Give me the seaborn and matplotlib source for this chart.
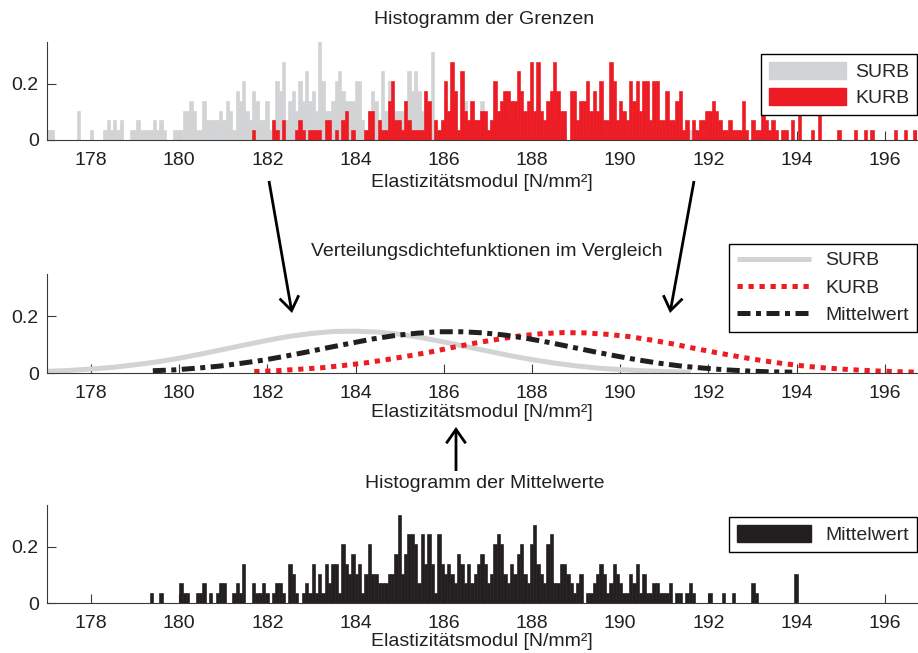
import numpy as np
import pandas as pd
import matplotlib
matplotlib.use("Agg")
import matplotlib.pyplot as plt
import seaborn as sns
from matplotlib.patches import Patch, FancyArrowPatch, ArrowStyle
from matplotlib.lines import Line2D

sns.set_style("ticks")
plt.rcParams["font.family"] = ["Liberation Sans", "DejaVu Sans"]
plt.rcParams["font.size"] = 14

# ---------------- data ----------------
BIN_START = 177.0
BIN_WIDTH = 0.075
N_BINS = 264
DENSITY_PER_COUNT = 0.0348

xtick_values = [178, 180, 182, 184, 186, 188, 190, 192, 194, 196]
ytick_values = [0, 0.2]
ytick_labels = ["0", "0.2"]

surb_first_bin = 0
surb_counts = [
    1, 1, 0, 0, 0, 0, 0, 0, 0, 3,
    0, 0, 0, 1, 0, 0, 0, 1, 2, 1,
    2, 1, 2, 0, 0, 1, 1, 2, 1, 1,
    1, 1, 2, 1, 2, 1, 0, 0, 1, 1,
    1, 3, 3, 4, 3, 1, 1, 4, 2, 2,
    2, 2, 3, 2, 4, 3, 1, 5, 4, 6,
    3, 2, 5, 4, 2, 2, 4, 1, 2, 6,
    5, 8, 2, 4, 5, 3, 6, 4, 7, 4,
    5, 3, 10, 6, 3, 3, 4, 6, 7, 5,
    4, 4, 4, 6, 6, 2, 1, 3, 5, 4,
    2, 7, 3, 6, 4, 3, 3, 3, 4, 7,
    5, 7, 5, 3, 4, 3, 9, 2, 1, 2,
    4, 3, 4, 5, 1, 3, 4, 2, 3, 2,
    2, 4, 2, 1, 2, 3, 2, 2, 3, 2,
    2, 2, 2, 2, 2, 2, 1, 2, 4, 2,
    1, 2, 1, 2, 1, 1, 1, 0, 1, 2,
    1, 1, 2, 1, 1, 1, 1, 1, 1, 0,
    1, 1, 1, 0, 1, 1, 0, 1, 1, 0,
    1, 0, 1, 0, 1, 0, 1, 0, 1, 1,
    0, 0, 0, 1, 1, 1,
]

kurb_first_bin = 62
kurb_counts = [
    1, 0, 0, 0, 0, 0, 2, 1, 0, 2,
    0, 0, 0, 1, 2, 1, 0, 1, 1, 1,
    1, 0, 2, 2, 0, 1, 0, 2, 3, 0,
    1, 0, 0, 0, 1, 3, 3, 0, 2, 1,
    1, 4, 6, 2, 2, 1, 4, 2, 1, 1,
    1, 1, 5, 4, 0, 2, 1, 2, 6, 3,
    8, 5, 1, 7, 3, 2, 4, 2, 2, 3,
    3, 1, 2, 6, 3, 4, 5, 5, 4, 4,
    7, 5, 3, 4, 8, 3, 8, 3, 2, 4,
    5, 8, 5, 3, 3, 0, 5, 5, 2, 4,
    4, 6, 3, 5, 3, 6, 2, 2, 8, 6,
    2, 4, 3, 2, 6, 4, 6, 3, 6, 6,
    2, 6, 6, 2, 2, 5, 2, 2, 4, 5,
    1, 2, 0, 2, 1, 2, 2, 3, 3, 4,
    3, 2, 1, 1, 2, 1, 1, 1, 4, 1,
    0, 2, 1, 1, 3, 2, 1, 2, 1, 0,
    1, 1, 0, 2, 0, 3, 0, 0, 0, 1,
    0, 3, 0, 0, 0, 0, 0, 1, 0, 0,
    0, 0, 1, 0, 0, 1, 0, 1, 0, 0,
    0, 0, 0, 0, 1, 0, 0, 1, 0, 0,
    1,
]

mittel_first_bin = 31
mittel_counts = [
    1, 0, 0, 1, 0, 0, 0, 0, 0, 2,
    1, 1, 0, 0, 1, 1, 2, 0, 1, 0,
    1, 2, 2, 0, 0, 1, 2, 1, 4, 0,
    0, 2, 1, 1, 2, 1, 0, 1, 2, 2,
    1, 0, 4, 3, 1, 0, 1, 2, 1, 4,
    1, 3, 1, 4, 2, 4, 4, 1, 6, 4,
    3, 5, 3, 4, 1, 3, 6, 3, 3, 2,
    2, 2, 3, 3, 5, 9, 3, 5, 7, 7,
    6, 2, 7, 4, 7, 4, 1, 7, 4, 3,
    4, 3, 2, 5, 4, 2, 4, 2, 3, 4,
    5, 4, 2, 3, 6, 7, 6, 3, 2, 4,
    3, 5, 6, 3, 2, 6, 8, 4, 3, 2,
    6, 7, 2, 2, 4, 4, 3, 2, 1, 2,
    3, 0, 1, 1, 2, 3, 4, 3, 1, 2,
    4, 3, 2, 1, 1, 3, 2, 4, 1, 3,
    1, 1, 2, 2, 1, 1, 1, 2, 0, 1,
    1, 0, 1, 2, 1, 0, 0, 0, 0, 1,
    0, 0, 0, 1, 0, 0, 1, 0, 0, 0,
    0, 0, 2, 1, 0, 0, 0, 0, 0, 0,
    0, 0, 0, 0, 0, 3,
]

surb_pdf_x = [177.0, 177.5, 178.0, 178.5, 179.0, 179.5, 180.0, 180.5, 181.0, 181.5,
              182.0, 182.5, 183.0, 183.5, 184.0, 184.5, 185.0, 185.5, 186.0, 186.5,
              187.0, 187.5, 188.0, 188.5, 189.0, 189.5, 190.0, 190.5, 191.0, 191.6]
surb_pdf_y = [0.006, 0.009, 0.014, 0.020, 0.029, 0.039, 0.052, 0.067, 0.083, 0.099,
              0.115, 0.129, 0.139, 0.146, 0.147, 0.144, 0.136, 0.124, 0.109, 0.093,
              0.077, 0.061, 0.047, 0.035, 0.025, 0.017, 0.012, 0.008, 0.005, 0.003]

kurb_pdf_x = [181.7, 182.2, 182.7, 183.2, 183.7, 184.2, 184.7, 185.2, 185.7, 186.2,
              186.7, 187.2, 187.7, 188.2, 188.7, 189.2, 189.7, 190.2, 190.7, 191.2,
              191.7, 192.2, 192.7, 193.2, 193.7, 194.2, 194.7, 195.2, 195.7, 196.2,
              196.7]
kurb_pdf_y = [0.005, 0.008, 0.013, 0.018, 0.026, 0.035, 0.047, 0.060, 0.074, 0.090,
              0.105, 0.118, 0.130, 0.138, 0.142, 0.141, 0.136, 0.128, 0.116, 0.102,
              0.086, 0.071, 0.057, 0.044, 0.033, 0.024, 0.017, 0.012, 0.008, 0.005,
              0.003]

mittel_pdf_x = [179.4, 179.9, 180.4, 180.9, 181.4, 181.9, 182.4, 182.9, 183.4, 183.9,
                184.4, 184.9, 185.4, 185.9, 186.4, 186.9, 187.4, 187.9, 188.4, 188.9,
                189.4, 189.9, 190.4, 190.9, 191.4, 191.9, 192.4, 192.9, 193.4, 193.9]
mittel_pdf_y = [0.008, 0.011, 0.017, 0.024, 0.034, 0.045, 0.059, 0.074, 0.090, 0.105,
                0.120, 0.132, 0.140, 0.145, 0.145, 0.141, 0.133, 0.121, 0.107, 0.091,
                0.075, 0.060, 0.046, 0.034, 0.024, 0.017, 0.011, 0.007, 0.004, 0.003]

labels_series = ["SURB", "KURB", "Mittelwert"]
titles = ["Histogramm der Grenzen", "Verteilungsdichtefunktionen im Vergleich",
          "Histogramm der Mittelwerte"]
xlabel = "Elastizitätsmodul [N/mm²]"

# ---------------- style ----------------
C_GRAY = "#D1D3D4"
C_RED = "#ED1C24"
C_BLACK = "#231F20"
C_TEXT = "#231F20"
C_AX = "#3a3a3a"

W, H = 918, 653
fig = plt.figure(figsize=(W / 100, H / 100), dpi=100)


def add_ax(top, bottom):
    return fig.add_axes([47 / W, 1 - bottom / H, 870 / W, (bottom - top) / H])


ax_top = add_ax(42, 140)
ax_mid = add_ax(274, 373)
ax_bot = add_ax(505, 603)


def draw_hist(ax, first_bin, counts, color):
    counts = np.asarray(counts, dtype=float)
    idx = first_bin + np.arange(len(counts))
    df = pd.DataFrame({
        "x": BIN_START + BIN_WIDTH * (idx + 0.5),
        "w": counts * DENSITY_PER_COUNT,
    })
    sns.histplot(data=df, x="x", weights="w", binwidth=BIN_WIDTH,
                 binrange=(BIN_START, BIN_START + BIN_WIDTH * N_BINS),
                 stat="count", element="bars", fill=True, color=color,
                 alpha=1, linewidth=0.45, edgecolor=color, ax=ax)


draw_hist(ax_top, surb_first_bin, surb_counts, C_GRAY)
draw_hist(ax_top, kurb_first_bin, kurb_counts, C_RED)
draw_hist(ax_bot, mittel_first_bin, mittel_counts, C_BLACK)

LW = 3.6
RED_DASH = (0, (1.05, 1.15))
BLACK_DASH = (0, (2.6, 1.1, 1.0, 1.1))
sns.lineplot(x=surb_pdf_x, y=surb_pdf_y, ax=ax_mid, color=C_GRAY, linewidth=LW,
             solid_capstyle="butt")
sns.lineplot(x=kurb_pdf_x, y=kurb_pdf_y, ax=ax_mid, color=C_RED, linewidth=LW,
             linestyle=RED_DASH, dash_capstyle="butt")
sns.lineplot(x=mittel_pdf_x, y=mittel_pdf_y, ax=ax_mid, color=C_BLACK, linewidth=LW,
             linestyle=BLACK_DASH, dash_capstyle="butt")

label_pads = {ax_top: 4, ax_mid: 1.5, ax_bot: 1.0}
for ax in (ax_top, ax_mid, ax_bot):
    ax.set_xlim(177.0, 196.73)
    ax.set_ylim(0, 0.348)
    ax.set_xticks(xtick_values)
    ax.set_yticks(ytick_values)
    ax.set_yticklabels(ytick_labels)
    sns.despine(ax=ax)
    for s in ("left", "bottom"):
        ax.spines[s].set_linewidth(0.8)
        ax.spines[s].set_color(C_AX)
    ax.tick_params(axis="both", direction="in", length=6.5, width=0.8,
                   color=C_AX, labelsize=14, labelcolor=C_TEXT)
    ax.tick_params(axis="x", pad=8.5)
    ax.tick_params(axis="y", pad=6)
    ax.set_xlabel(xlabel, fontsize=14, color=C_TEXT, labelpad=label_pads[ax])
    ax.set_ylabel("")
    ax.patch.set_alpha(0)

# legends
leg_kw = dict(loc="upper right", fontsize=14, frameon=True, fancybox=False,
              edgecolor="black", framealpha=1, borderaxespad=0, borderpad=0.4)
lg = ax_top.legend(handles=[Patch(color=C_GRAY), Patch(color=C_RED)],
                   labels=labels_series[:2], bbox_to_anchor=(1.0, 0.878),
                   handlelength=4.0, handleheight=1.0, labelspacing=0.35,
                   handletextpad=0.45, **leg_kw)
lg.get_frame().set_linewidth(1.0)

mid_handles = [
    Line2D([], [], color=C_GRAY, linewidth=LW, solid_capstyle="butt"),
    Line2D([], [], color=C_RED, linewidth=LW, linestyle=RED_DASH,
           dash_capstyle="butt"),
    Line2D([], [], color=C_BLACK, linewidth=LW, linestyle=BLACK_DASH,
           dash_capstyle="butt"),
]
lg = ax_mid.legend(handles=mid_handles, labels=labels_series,
                   bbox_to_anchor=(1.0, 1.303), handlelength=3.8,
                   labelspacing=0.5, handletextpad=0.75, **leg_kw)
lg.get_frame().set_linewidth(1.0)

lg = ax_bot.legend(handles=[Patch(color=C_BLACK)], labels=[labels_series[2]],
                   bbox_to_anchor=(1.0, 0.878), handlelength=3.8, handleheight=1.0,
                   handletextpad=0.75, **leg_kw)
lg.get_frame().set_linewidth(1.0)

# titles
title_pos = [(484, 19), (487, 252), (485, 483)]
for t, (px, py) in zip(titles, title_pos):
    fig.text(px / W, 1 - py / H, t, ha="center", va="center", fontsize=14,
             color=C_TEXT)

# arrows
arrows = [((269, 181), (292, 313)), ((694, 181), (670, 313)), ((456, 471), (456, 427))]
style = ArrowStyle("->", head_length=10, head_width=7)
for (x0, y0), (x1, y1) in arrows:
    fig.add_artist(FancyArrowPatch((x0 / W, 1 - y0 / H), (x1 / W, 1 - y1 / H),
                                   transform=fig.transFigure, arrowstyle=style,
                                   mutation_scale=1, linewidth=2.0, color="black",
                                   shrinkA=0, shrinkB=0, joinstyle="miter",
                                   capstyle="butt"))

fig.savefig("out.png", dpi=100)
